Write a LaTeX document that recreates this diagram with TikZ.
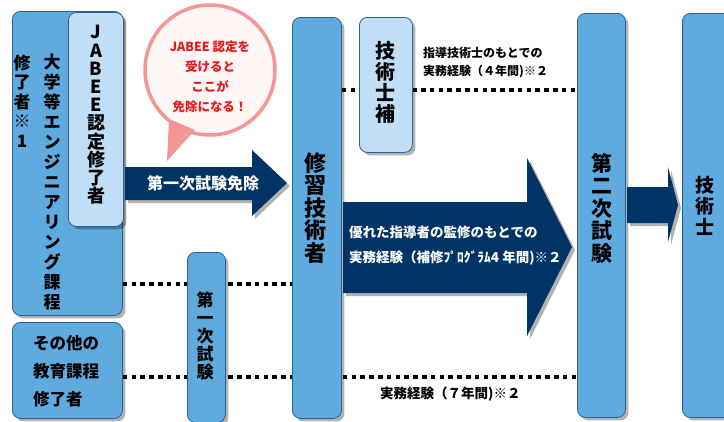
\documentclass[tikz,border=0pt]{standalone}
\usepackage{fontspec}
\newfontfamily\jp{Noto Sans CJK JP}
\usetikzlibrary{shadows,backgrounds}
\definecolor{boxblue}{RGB}{95,171,224}
\definecolor{boxline}{RGB}{45,95,150}
\definecolor{lightblue}{RGB}{192,222,246}
\definecolor{navy}{RGB}{0,51,102}
\definecolor{pinkc}{RGB}{244,150,150}
\definecolor{bubfill}{RGB}{255,246,246}
\definecolor{redtext}{RGB}{232,25,30}
\begin{document}
\begin{tikzpicture}[x=1pt,y=-1pt,
  shad/.style={drop shadow={shadow xshift=3pt,shadow yshift=-3pt,opacity=0.3,fill=black}},
  box/.style={shad,draw=boxline,fill=boxblue,rounded corners=8pt,line width=0.8pt,inner sep=0pt,anchor=north west},
  lbox/.style={box,fill=lightblue},
  vt/.style 2 args={font=\jp\bfseries\fontsize{#1}{#2}\selectfont,align=center,inner sep=0pt},
  lbl/.style={font=\jp\bfseries\fontsize{#1}{#1}\selectfont,inner sep=0pt,anchor=west},
  dots/.style={line width=4.8pt,dash pattern=on 4.6pt off 4.2pt,black},
  blockarrow/.style={fill=navy,shad}]
\useasboundingbox (0,0) rectangle (724,421);
% boxes
\node[box,minimum width=110pt,minimum height=304pt] (L) at (12,11) {};
\node[lbox,minimum width=55pt,minimum height=214pt] (J) at (68,12) {};
\node[box,minimum width=110pt,minimum height=96pt] (O) at (12,322) {};
\node[box,minimum width=38pt,minimum height=170pt] (F) at (187,252) {};
\node[box,minimum width=49pt,minimum height=401pt] (S) at (292,17) {};
\node[lbox,minimum width=53pt,minimum height=135pt] (H) at (359,17) {};
\node[box,minimum width=48pt,minimum height=404pt] (N) at (577,13) {};
\node[box,minimum width=60pt,minimum height=404pt] (G) at (682,13) {};
% dotted lines behind
\begin{scope}[on background layer]
\fill[white] (0,0) rectangle (724,421);
\draw[dots] (S.east |- 0,90) -- (N.west |- 0,90);
\draw[dots] (L.east |- 0,284) -- (S.west |- 0,284);
\draw[dots] (O.east |- 0,377) -- (N.west |- 0,377);
\end{scope}
% vertical texts
\node[vt={17}{19.5}] (t1) at (22,101) {修\\了\\者\\※\\1};
\node[vt={17}{20}] (t2) at (52,182) {大\\学\\等\\エ\\ン\\ジ\\ニ\\ア\\リ\\ン\\グ\\課\\程};
\node[vt={18}{18.2}] (t3) at (96,115) {J\\A\\B\\E\\E\\認\\定\\修\\了\\者};
\node[font=\jp\bfseries\fontsize{16.5}{28}\selectfont,align=left,inner sep=0pt,anchor=west] (t4) at (33,371) {その他の\\教育課程\\修了者};
\node[vt={17}{18}] (t5) at (205,336) {第\\一\\次\\試\\験};
\node[vt={22}{22.5}] (t6) at (315,208) {修\\習\\技\\術\\者};
\node[vt={20}{21}] (t7) at (385,82) {技\\術\\士\\補};
\node[vt={21}{22.5}] (t8) at (602,208) {第\\二\\次\\試\\験};
\node[vt={19}{21}] (t9) at (705,206) {技\\術\\士};
% labels
\node[lbl=12] (u1) at (423,53) {指導技術士のもとでの};
\node[lbl=12] (u2) at (423,72) {実務経験（４年間)※２};
\node[lbl=13.5] (d1) at (380,394) {実務経験（７年間)※２};
% speech bubble
\node[circle,minimum size=130pt,draw=pinkc,line width=3.5pt,fill=bubfill,inner sep=0pt] (bub) at (210,70) {};
\fill[pinkc] (169,119) -- (195,130) -- (167,161) -- cycle;
\node[font=\jp\bfseries\fontsize{12.5}{20}\selectfont,text=redtext,align=center,inner sep=0pt] (bt) at (210,77) {JABEE 認定を\\受けると\\ここが\\免除になる！};
% block arrow 1
\path[blockarrow] (125,167) -- (252,167) -- (252,150) -- (287,183) -- (252,216) -- (252,200) -- (125,200) -- cycle;
\node[font=\jp\bfseries\fontsize{16}{16}\selectfont,text=white,inner sep=0pt] (a1) at (203,183) {第一次試験免除};
% big block arrow
\path[blockarrow] (343,202) -- (527,202) -- (527,158) -- (572,247) -- (527,336) -- (527,293) -- (343,293) -- cycle;
\node[lbl=13.5,text=white] (a2) at (349,232) {優れた指導者の監修のもとでの};
\node[lbl=13.5,text=white] (a3) at (349,258) {実務経験（補修ﾌﾟﾛｸﾞﾗﾑ4 年間)※２};
% arrow to final box
\path[blockarrow] (627,187) -- (668,187) -- (668,167) -- (678,205) -- (668,242) -- (668,223) -- (627,223) -- cycle;
\end{tikzpicture}
\end{document}
